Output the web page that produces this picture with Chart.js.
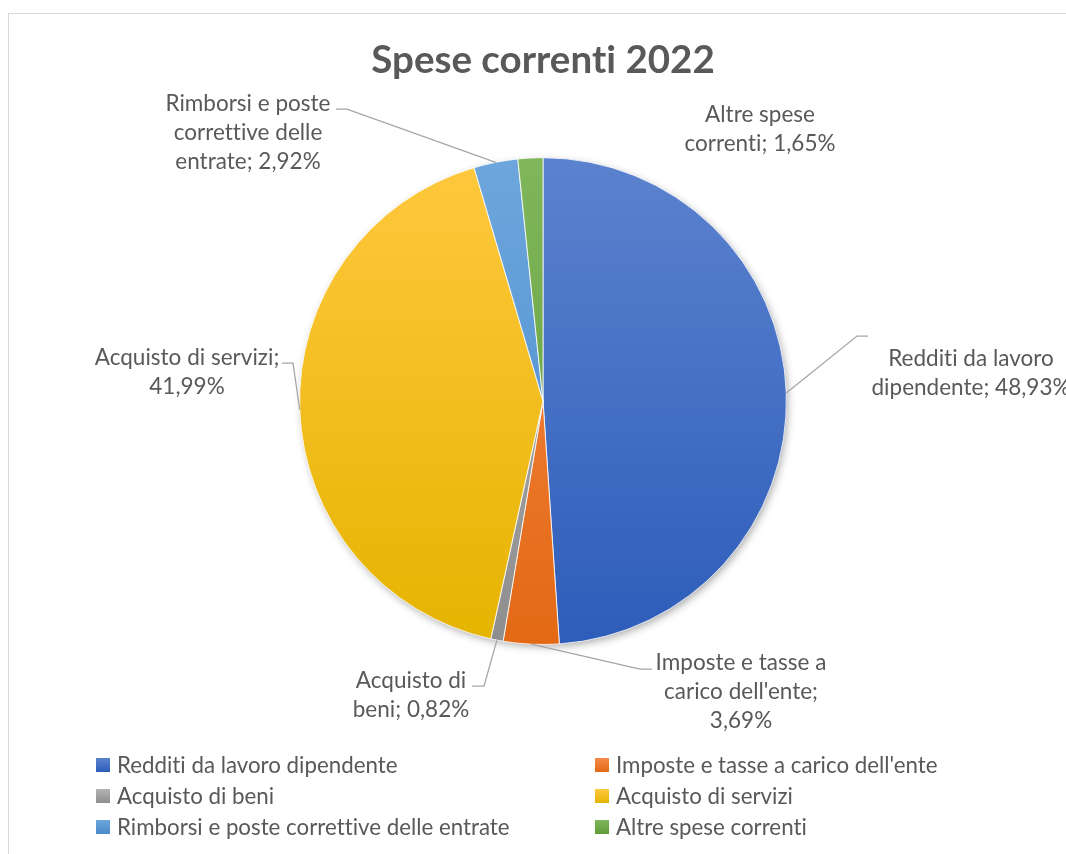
<!DOCTYPE html>
<html>
<head>
<meta charset="utf-8">
<script src="https://cdn.jsdelivr.net/npm/chart.js@4"></script>
<style>
  html, body { margin: 0; padding: 0; background: #fff; width: 1066px; height: 854px; overflow: hidden; }
  #frame { position: absolute; left: 8px; top: 13px; width: 1100px; height: 900px; border-left: 1px solid #D9D9D9; border-top: 1px solid #D9D9D9; }
  #wrap { position: absolute; left: 0; top: 0; width: 1066px; height: 854px; }
  #legend { position: absolute; left: 96px; top: 749px; display: grid; grid-template-columns: 499px 400px; row-gap: 0; font-family: Lato, "Liberation Sans", sans-serif; font-size: 22.3px; color: #595959; font-variant-ligatures: none; }
  #legend .item { display: flex; align-items: center; height: 31px; white-space: nowrap; }
  #legend .box { width: 14px; height: 14px; margin-right: 7px; flex: none; }
</style>
</head>
<body>
<div id="frame"></div>
<div id="wrap"><canvas id="c" width="1066" height="854"></canvas></div>
<div id="legend"></div>
<script>
// ---- data ----
const categories = [
  "Redditi da lavoro dipendente",
  "Imposte e tasse a carico dell'ente",
  "Acquisto di beni",
  "Acquisto di servizi",
  "Rimborsi e poste correttive delle entrate",
  "Altre spese correnti"
];
const values = [48.93, 3.69, 0.82, 41.99, 2.92, 1.65];
const chartTitle = "Spese correnti 2022";

// ---- style ----
const baseColors = ["#4472C4", "#ED7D31", "#A5A5A5", "#FFC000", "#5B9BD5", "#70AD47"];
const topColors  = ["#5B82CE", "#F48A4A", "#B3B3B3", "#FFC83E", "#6CA6DC", "#80B65C"];
const botColors  = ["#2D5DBA", "#E36914", "#8E8E8E", "#E5B400", "#4A8ACB", "#5E9C36"];
const labelWords = [[3,2],[4,2,1],[2,2],[3,1],[3,2,2],[2,2]];
// label placement relative to pie center (first line centre)
const labelPos = [[428,-42],[198,262],[-132,280],[-356,-43],[-295,-297],[217,-286]];
// leader elbow and end relative to pie center (null = no leader)
const leaders = [[[314,-65],[325,-65]], [[97,268],[109,268]], [[-59,285],[-71,285]], [[-250,-38],[-261,-38]], [[-196,-292],[-207,-292]], null];
const textColor = "#595959";
const fontFam = 'Lato, "Liberation Sans", sans-serif';
const lineH = 28.7;

function fmt(v) { return v.toFixed(2).replace('.', ',') + '%'; }

function gradFor(ctx, area, i) {
  const g = ctx.createLinearGradient(0, area.top, 0, area.bottom);
  g.addColorStop(0, topColors[i]);
  g.addColorStop(1, botColors[i]);
  return g;
}

function noLig(ctx) {
  try { ctx.textRendering = 'optimizeSpeed'; } catch (e) {}
  try { ctx.letterSpacing = '0.01px'; } catch (e) {}
}

const noLigPlugin = {
  id: 'noLig',
  beforeDraw(chart) { noLig(chart.ctx); }
};

const shadowPlugin = {
  id: 'pieShadow',
  beforeDatasetsDraw(chart) {
    const arc = chart.getDatasetMeta(0).data[0];
    if (!arc) return;
    const ctx = chart.ctx;
    ctx.save();
    ctx.shadowColor = 'rgba(0,0,0,0.35)';
    ctx.shadowBlur = 8;
    ctx.shadowOffsetX = 2;
    ctx.shadowOffsetY = 3;
    ctx.fillStyle = '#fff';
    ctx.beginPath();
    ctx.arc(arc.x, arc.y, arc.outerRadius - 1, 0, Math.PI * 2);
    ctx.fill();
    ctx.restore();
  }
};

const labelPlugin = {
  id: 'pieLabels',
  afterDatasetsDraw(chart) {
    const meta = chart.getDatasetMeta(0);
    const ctx = chart.ctx;
    const first = meta.data[0];
    const cx = first.x, cy = first.y;
    ctx.save();
    noLig(ctx);
    meta.data.forEach((arc, i) => {
      const mid = (arc.startAngle + arc.endAngle) / 2;
      const ex = cx + Math.cos(mid) * arc.outerRadius;
      const ey = cy + Math.sin(mid) * arc.outerRadius;
      if (leaders[i]) {
        ctx.strokeStyle = '#A6A6A6';
        ctx.lineWidth = 1.3;
        ctx.beginPath();
        ctx.moveTo(ex, ey);
        ctx.lineTo(cx + leaders[i][0][0], cy + leaders[i][0][1]);
        ctx.lineTo(cx + leaders[i][1][0], cy + leaders[i][1][1]);
        ctx.stroke();
      }
      const words = (categories[i] + '; ' + fmt(values[i])).split(' ');
      const lines = [];
      let k = 0;
      labelWords[i].forEach(n => { lines.push(words.slice(k, k + n).join(' ')); k += n; });
      ctx.fillStyle = textColor;
      ctx.font = '22.5px ' + fontFam;
      ctx.textAlign = 'center';
      ctx.textBaseline = 'middle';
      lines.forEach((ln, j) => {
        ctx.fillText(ln, cx + labelPos[i][0], cy + labelPos[i][1] + j * lineH);
      });
    });
    ctx.restore();
  }
};

const canvasEl = document.getElementById('c');

const chart = new Chart(canvasEl, {
  type: 'pie',
  data: {
    labels: categories,
    datasets: [{
      data: values,
      backgroundColor: (c) => {
        const area = c.chart.chartArea;
        if (!area) return baseColors[c.dataIndex];
        return gradFor(c.chart.ctx, area, c.dataIndex);
      },
      borderColor: 'rgba(255,255,255,0.8)',
      borderWidth: 1
    }]
  },
  options: {
    responsive: false,
    animation: false,
    layout: { padding: { left: 299, right: 279, top: 0, bottom: 209 } },
    plugins: {
      legend: { display: false },
      tooltip: { enabled: false },
      title: {
        display: true,
        text: chartTitle,
        color: textColor,
        font: { family: fontFam, size: 38.5, weight: 'bold' },
        padding: { top: 37, bottom: 74 }
      }
    }
  },
  plugins: [noLigPlugin, shadowPlugin, labelPlugin]
});

// HTML legend in two columns, row-major
const lg = document.getElementById('legend');
categories.forEach((name, i) => {
  const it = document.createElement('div');
  it.className = 'item';
  const b = document.createElement('span');
  b.className = 'box';
  b.style.background = 'linear-gradient(' + topColors[i] + ',' + botColors[i] + ')';
  const t = document.createElement('span');
  t.textContent = name;
  it.appendChild(b); it.appendChild(t);
  lg.appendChild(it);
});
</script>
</body>
</html>
